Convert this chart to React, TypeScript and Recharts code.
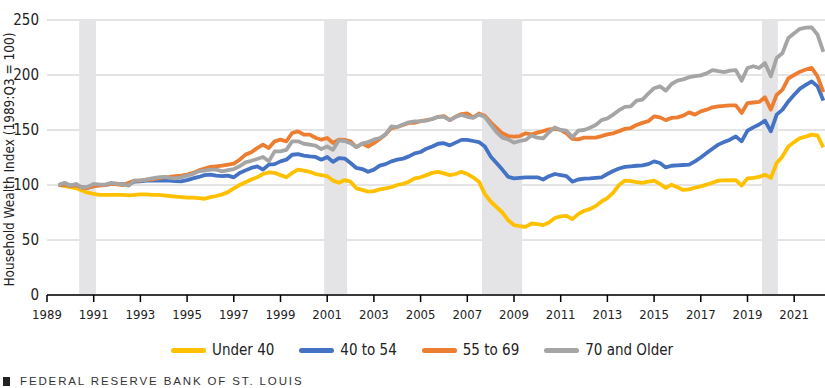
import React from "react"
import {
  LineChart,
  Line,
  XAxis,
  YAxis,
  CartesianGrid,
  ReferenceArea,
} from "recharts"

// quarterly, 1989:Q3 .. 2022:Q2
const FIRST_QUARTER = "1989:Q3"

const UNDER_40 = [
  100, 99, // 1989
  98, 97, 95, 93,
  92, 91, 91, 91,
  91, 91, 90.5, 91,
  91.5, 91.5, 91, 91,
  90.5, 90, 89.5, 89, // 1994
  88.5, 88.5, 88, 87.5,
  89, 90, 91.5, 93.5,
  97, 100, 102.5, 105,
  107, 110, 111.5, 111,
  109, 107, 111, 114, // 1999
  113, 112, 110, 109,
  108, 104, 102, 104.5,
  103, 97, 95.5, 94,
  94.5, 96, 97, 98,
  100, 101, 103, 106, // 2004
  107, 109, 111, 112,
  110.5, 109, 110, 112,
  110, 107, 103, 92,
  85, 80, 75, 68,
  63.6, 62.5, 62, 65, // 2009
  64.5, 63.6, 66, 70,
  71.5, 72, 69, 73.5,
  76.5, 78, 81, 85,
  88, 93, 100, 104,
  103.6, 102.7, 102, 103, // 2014
  104, 101, 97.3, 100.3,
  98, 95.5, 96, 97.5,
  98.8, 100.3, 102, 104,
  104.2, 104.3, 104.5, 99.5,
  106, 106.5, 107.3, 109.4, // 2019
  106.4, 120, 126, 135,
  139, 142.7, 144, 145.8,
  145, 134.2, // 2022
]

const AGE_40_54 = [
  100, 100.5,
  99.5, 100, 98, 97.5,
  99, 100, 100, 101,
  101, 100.5, 101, 103,
  103.3, 104, 104, 104,
  104, 104, 103.5, 103.3, // 1994
  104.5, 106, 107.3, 109,
  109.4, 108.5, 108, 108.5,
  107, 111, 113.3, 115.5,
  117, 114, 118.5, 119,
  121.5, 123, 127.5, 128, // 1999
  126.7, 126, 125.5, 123,
  125.5, 121, 124.5, 124,
  120, 115.5, 114.5, 112,
  114, 117.6, 119, 121.5,
  123, 124, 126, 128.8, // 2004
  130, 133, 135, 137.5,
  138, 136, 138.5, 141,
  141, 140, 139, 135,
  126, 120, 114, 107.5,
  106, 106.5, 107, 107, // 2009
  107, 105, 108, 110,
  109, 108, 103, 105,
  105.8, 106, 106.5, 107,
  110, 112.7, 115, 116.5,
  117, 117.5, 117.9, 119, // 2014
  121.5, 120, 116, 117.5,
  117.9, 118.2, 118.5, 121.5,
  125, 129, 133, 136.7,
  139, 141.2, 144.2, 139.7,
  149.4, 152.4, 155, 158.5, // 2019
  148.8, 164, 168.5, 176,
  182, 187.6, 191, 194.2,
  189.7, 176.7,
]

const AGE_55_69 = [
  100, 100.5,
  99, 100, 97.5, 97.5,
  99, 99.5, 100, 101,
  100.5, 100, 102, 104,
  104, 104.8, 105, 106,
  107, 107.3, 108, 108.5, // 1994
  109.4, 111, 113.3, 115,
  116.4, 117, 117.6, 118.5,
  119.4, 123, 127.6, 129.7,
  133.6, 136.7, 133.6, 139.7,
  141.2, 139.7, 147.3, 148.8, // 1999
  145.8, 145.8, 143, 141.2,
  142.7, 138.2, 141.2, 141,
  139.7, 134.5, 137.6, 135,
  138, 141.8, 146, 151.8,
  152.7, 154.5, 156.4, 156.6, // 2004
  158, 159, 160, 162,
  162.7, 159, 162, 164.5,
  165, 161.5, 165, 163,
  157, 152, 147, 144.5,
  144, 144.5, 147, 146, // 2009
  147.6, 149, 150.6, 151,
  150, 147, 142, 141.5,
  143, 143, 143, 144.5,
  146, 147, 149, 151,
  151.8, 154.5, 156.5, 158, // 2014
  162.4, 161.5, 159, 161,
  161.5, 163, 166, 164,
  167, 168.5, 170.6, 171.5,
  172, 172.4, 172.4, 165.5,
  174.5, 175, 175.5, 179.7, // 2019
  168.5, 182, 186.7, 197,
  200, 203, 205, 206.4,
  198.8, 184.5,
]

const AGE_70_PLUS = [
  100, 102,
  99.5, 101, 97.5, 98.5,
  101, 100.3, 100.3, 102,
  101.2, 100.5, 99.4, 104,
  104.2, 104.8, 106, 107,
  107.3, 106.5, 106, 107, // 1994
  108.5, 110, 112.4, 113,
  114, 114, 112.4, 113.5,
  114.5, 117, 120.6, 122,
  123.6, 125.5, 121.5, 130.6,
  130.6, 132, 139.7, 139.7, // 1999
  137.5, 136.7, 135.8, 132.7,
  135, 132, 140.6, 140,
  138, 134.5, 137.6, 139,
  141.2, 142.7, 146, 153.3,
  152.7, 155, 157, 157.9, // 2004
  158, 158.5, 160, 162,
  162, 159, 162, 163.6,
  162, 161, 164, 162,
  155, 148, 143, 141.5,
  138.5, 140, 141, 145, // 2009
  143, 142.4, 148, 152.4,
  150, 149.4, 143.3, 149.4,
  150, 152, 154.5, 159,
  160.6, 164, 168, 171,
  171.5, 176.7, 177.6, 183, // 2014
  188, 189.7, 185.8, 191.8,
  194.8, 196, 198, 199,
  199.7, 201.5, 204.5, 203.5,
  202.7, 204, 204.5, 194.8,
  206.4, 208, 206.4, 211, // 2019
  198.8, 215.5, 220, 233.6,
  238, 242, 243, 243.3,
  236.7, 221,
]

const RECESSIONS = [
  [1990.38, 1991.1],
  [2000.87, 2001.85],
  [2007.63, 2009.35],
  [2019.62, 2020.3],
]

const YEAR_TICKS = [1989, 1991, 1993, 1995, 1997, 1999, 2001, 2003, 2005, 2007, 2009, 2011, 2013, 2015, 2017, 2019, 2021]
const VALUE_TICKS = [0, 50, 100, 150, 200, 250]

const SERIES = [
  { key: "u40", name: "Under 40", color: "#FFC000", values: UNDER_40 },
  { key: "a40", name: "40 to 54", color: "#4472C4", values: AGE_40_54 },
  { key: "a55", name: "55 to 69", color: "#ED7D31", values: AGE_55_69 },
  { key: "a70", name: "70 and Older", color: "#A5A5A5", values: AGE_70_PLUS },
]

const startYear = Number(FIRST_QUARTER.slice(0, 4))
const startQ = Number(FIRST_QUARTER.slice(6))
const data = UNDER_40.map((_, i) => {
  const row: Record<string, number> = { t: startYear + (startQ - 1) / 4 + i / 4 }
  SERIES.forEach((s) => (row[s.key] = s.values[i]))
  return row
})

const FONT = "'Liberation Sans Narrow', 'DejaVu Sans Condensed', 'Liberation Sans', sans-serif"

export default function App() {
  return (
    <div style={{ position: "absolute", left: 0, top: 0, width: 825, height: 388, background: "#fff", fontFamily: FONT }}>
      <LineChart width={825} height={330} data={data} margin={{ top: 20, right: 0, bottom: 5, left: 0 }}>
        <CartesianGrid vertical={false} stroke="#c8c8c8" strokeWidth={1} />
        {RECESSIONS.map(([a, b], i) => (
          <ReferenceArea key={i} x1={a} x2={b} y1={0} y2={250} fill="#e4e4e6" fillOpacity={1} stroke="none" ifOverflow="hidden" />
        ))}
        <XAxis
          dataKey="t"
          type="number"
          domain={[1989, 2022.32]}
          ticks={YEAR_TICKS}
          allowDataOverflow
          height={30}
          stroke="#000"
          strokeWidth={1.5}
          tickSize={7}
          tickMargin={8}
          tick={{ fontSize: 13, fill: "#222", fontFamily: FONT }}
        />
        <YAxis
          type="number"
          domain={[0, 250]}
          ticks={VALUE_TICKS}
          width={47}
          axisLine={false}
          tickLine={false}
          tick={{ fontSize: 15, fill: "#222", fontFamily: FONT }}
          label={{
            value: "Household Wealth Index (1989:Q3 = 100)",
            angle: -90,
            position: "center",
            dx: -14,
            dy: 2,
            style: { fontSize: 13.5, fill: "#222", fontFamily: FONT },
          }}
        />
        {SERIES.map((s) => (
          <Line
            key={s.key}
            dataKey={s.key}
            name={s.name}
            stroke={s.color}
            strokeWidth={3.8}
            dot={false}
            type="linear"
            strokeLinejoin="round"
            isAnimationActive={false}
          />
        ))}
      </LineChart>
      <div style={{ position: "absolute", top: 341, left: 171, display: "flex", alignItems: "center", fontSize: 15, color: "#222" }}>
        {SERIES.map((s) => (
          <div key={s.key} style={{ display: "flex", alignItems: "center", marginRight: 25 }}>
            <span style={{ display: "inline-block", width: 35, height: 5, borderRadius: 3, background: s.color, marginRight: 6 }} />
            <span>{s.name}</span>
          </div>
        ))}
      </div>
      <div style={{ position: "absolute", top: 375, left: 3, display: "flex", alignItems: "center", fontSize: 11.5, letterSpacing: 1.87, color: "#333", fontFamily: "'Liberation Sans', sans-serif" }}>
        <span style={{ display: "inline-block", width: 7, height: 9, background: "#222", marginRight: 10 }} />
        <span>FEDERAL RESERVE BANK OF ST. LOUIS</span>
      </div>
    </div>
  )
}
